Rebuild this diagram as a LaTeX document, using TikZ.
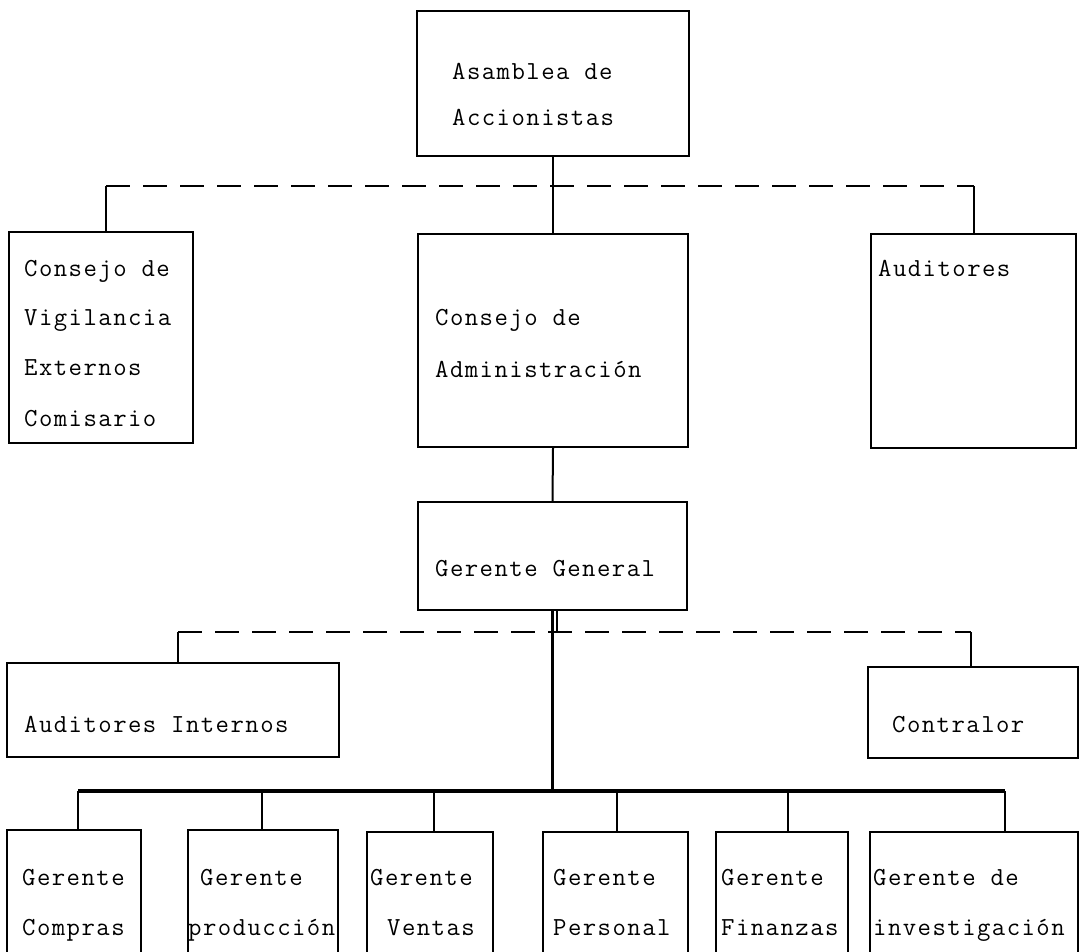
\documentclass[tikz,border=0pt]{standalone}
\usepackage{fontspec}
\setmonofont{Latin Modern Mono}[LetterSpace=5.6]
\usetikzlibrary{calc}
\begin{document}
\begin{tikzpicture}[x=1pt,y=-1pt,
  box/.style={draw, line width=2pt, rectangle, inner sep=0pt},
  lbl/.style={anchor=base west, inner sep=0pt, font=\ttfamily\fontsize{26}{30}\selectfont},
  link/.style={line width=2pt},
  dlink/.style={line width=1.9pt, dash pattern=on 24pt off 13pt},
  bus/.style={line width=3.2pt}]
\path[fill=white] (0,0) rectangle (1083,951);
\useasboundingbox (0,0) rectangle (1083,951);
\clip (0,0) rectangle (1083,951);

% boxes
\node[box, minimum width=272pt, minimum height=145pt] (asm) at (553,83.5) {};
\node[box, minimum width=184pt, minimum height=211pt] (vig) at (101,337.5) {};
\node[box, minimum width=270pt, minimum height=213pt] (adm) at (553,340.5) {};
\node[box, minimum width=205pt, minimum height=214pt] (aud) at (973.5,341) {};
\node[box, minimum width=269pt, minimum height=108pt] (gg) at (552.5,556) {};
\node[box, minimum width=332pt, minimum height=94pt] (ai) at (173,710) {};
\node[box, minimum width=210pt, minimum height=91pt] (con) at (973,712.5) {};
\node[box, minimum width=134pt, minimum height=140pt] (g1) at (74,900) {};
\node[box, minimum width=150pt, minimum height=140pt] (g2) at (263,900) {};
\node[box, minimum width=126pt, minimum height=138pt] (g3) at (430,901) {};
\node[box, minimum width=145pt, minimum height=138pt] (g4) at (615.5,901) {};
\node[box, minimum width=132pt, minimum height=138pt] (g5) at (782,901) {};
\node[box, minimum width=208pt, minimum height=138pt] (g6) at (974,901) {};

% texts
\node[lbl] (t1) at (452,79) {Asamblea de};
\node[lbl] (t2) at (452,125) {Accionistas};
\node[lbl] (t3) at (24,276) {Consejo de};
\node[lbl] (t4) at (24,325) {Vigilancia};
\node[lbl] (t5) at (24,375) {Externos};
\node[lbl] (t6) at (24,426) {Comisario};
\node[lbl] (t7) at (435,325) {Consejo de};
\node[lbl] (t8) at (435,377) {Administración};
\node[lbl] (t9) at (878,276) {Auditores};
\node[lbl] (t10) at (435,576) {Gerente General};
\node[lbl] (t11) at (24,732) {Auditores Internos};
\node[lbl] (t12) at (892,732) {Contralor};
\node[lbl] (b1a) at (22,885) {Gerente};
\node[lbl] (b1b) at (22,935) {Compras};
\node[lbl] (b2a) at (200,885) {Gerente};
\node[lbl] (b2b) at (188,935) {producción};
\node[lbl] (b3a) at (370,885) {Gerente};
\node[lbl] (b3b) at (387,935) {Ventas};
\node[lbl] (b4a) at (553,885) {Gerente};
\node[lbl] (b4b) at (553,935) {Personal};
\node[lbl] (b5a) at (721,885) {Gerente};
\node[lbl] (b5b) at (721,935) {Finanzas};
\node[lbl] (b6a) at (873,885) {Gerente de};
\node[lbl] (b6b) at (873,935) {investigación};

% upper connectors
\coordinate (vl) at (106,186);
\coordinate (vr) at (974,186);
\draw[link] (asm.south) -- (adm.north);
\draw[dlink] (vl) -- (vr);
\draw[link] (vl) -- (vl |- vig.north);
\draw[link] (vr) -- (vr |- aud.north);
\draw[link] (adm.south) -- (gg.north);

% lower dashed connectors
\coordinate (al) at (178,632);
\coordinate (ar) at (971,632);
\draw[dlink] (al) -- (ar);
\draw[link] (al) -- (al |- ai.north);
\draw[link] (ar) -- (ar |- con.north);
\coordinate (st) at (557,632);
\draw[line width=1.2pt] (st |- gg.south) -- (st) -- ++(6,0);

% bus
\coordinate (bl) at (78,791);
\coordinate (br) at (1005,791);
\draw[bus] (bl) -- (br);
\draw[line width=2.2pt] (gg.south) -- (gg.south |- bl);
\coordinate (d1) at (78,791);
\coordinate (d2) at (262,791);
\coordinate (d3) at (434,791);
\coordinate (d4) at (617,791);
\coordinate (d5) at (788,791);
\coordinate (d6) at (1005,791);
\draw[link] (d1) -- (d1 |- g1.north);
\draw[link] (d2) -- (d2 |- g2.north);
\draw[link] (d3) -- (d3 |- g3.north);
\draw[link] (d4) -- (d4 |- g4.north);
\draw[link] (d5) -- (d5 |- g5.north);
\draw[link] (d6) -- (d6 |- g6.north);
\end{tikzpicture}
\end{document}
